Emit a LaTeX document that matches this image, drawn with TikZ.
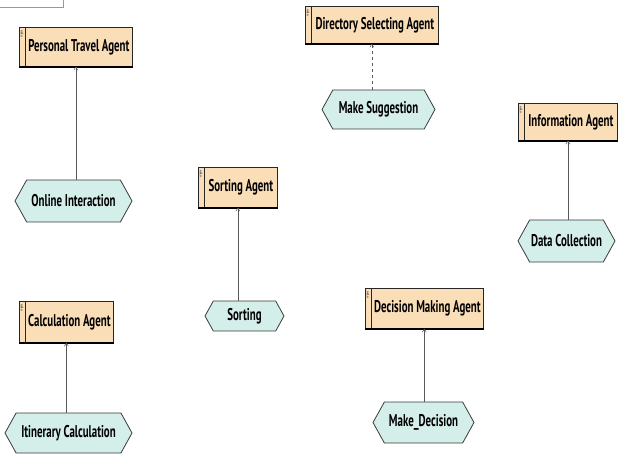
\documentclass[tikz,border=0pt]{standalone}
\usepackage{fontspec}
\setmainfont{PT Sans}
\newfontfamily\lblfont[FakeStretch=0.64]{PT Sans}
\usetikzlibrary{shapes.symbols,arrows.meta,calc}

\definecolor{agentfill}{RGB}{250,222,184}
\definecolor{taskfill}{RGB}{212,238,234}
\definecolor{edgegray}{RGB}{55,60,60}

\tikzset{
  lbl/.style={font=\lblfont\bfseries\fontsize{17}{18}\selectfont},
  agentbox/.style={lbl, draw=black!85, fill=agentfill, line width=0.7pt,
    anchor=north west, inner sep=0pt},
  taskhex/.style={lbl, signal, signal to=west and east, signal pointer angle=122,
    draw=edgegray, fill=taskfill, line width=0.8pt, inner sep=0pt},
  link/.style={draw=black!65, line width=0.5pt,
    -{Straight Barb[length=3pt,width=4pt]}},
  stereo/.style={font=\fontsize{4}{4}\selectfont, inner sep=0pt, rotate=-90},
}

% side strip, stereotype mark and heavy bottom rule of an agent box
\newcommand{\agentdeco}[1]{%
  \draw[black!85, line width=0.7pt] ($(#1.north west)+(6,0)$) -- ($(#1.south west)+(6,0)$);
  \node[stereo] at ($(#1.north west)+(3,7)$) {«A»};
  \draw[black, line width=1.8pt] (#1.south west) -- (#1.south east);
}

\begin{document}
\begin{tikzpicture}[x=1pt,y=-1pt]
  \fill[white] (0,0) rectangle (618,454);
  \useasboundingbox (0,0) rectangle (618,454);

  % clipped tab frame in the corner
  \draw[black!40, line width=0.6pt] (-1,7) -- (63,7) -- (63,-1);

  % agents
  \node[agentbox, minimum width=113, minimum height=39] (pta) at (19,27) {\hspace*{6pt}Personal Travel Agent};
  \node[agentbox, minimum width=133, minimum height=37] (dsa) at (305,6) {\hspace*{6pt}Directory Selecting Agent};
  \node[agentbox, minimum width=79, minimum height=40] (sa) at (198,167) {\hspace*{6pt}Sorting Agent};
  \node[agentbox, minimum width=99, minimum height=37] (ia) at (518,103) {\hspace*{6pt}Information Agent};
  \node[agentbox, minimum width=94, minimum height=41] (ca) at (19,301) {\hspace*{6pt}Calculation Agent};
  \node[agentbox, minimum width=118, minimum height=40] (dma) at (365,288) {\hspace*{6pt}Decision Making Agent};
  \agentdeco{pta}
  \agentdeco{dsa}
  \agentdeco{sa}
  \agentdeco{ia}
  \agentdeco{ca}
  \agentdeco{dma}

  % tasks
  \node[taskhex, minimum width=113, minimum height=39] (ms) at (378.5,109.5) {Make Suggestion};
  \node[taskhex, minimum width=117, minimum height=42] (oi) at (73.5,201) {Online Interaction};
  \node[taskhex, minimum width=79, minimum height=30] (so) at (244.5,316) {Sorting};
  \node[taskhex, minimum width=97, minimum height=42] (dc) at (566.5,241) {Data Collection};
  \node[taskhex, minimum width=127, minimum height=40] (ic) at (68.5,433) {Itinerary Calculation};
  \node[taskhex, minimum width=101, minimum height=41] (md) at (423.5,422.5) {Make\_Decision};

  % links from each task up to its agent
  \draw[link] (oi.north -| pta.south) -- (pta.south);
  \draw[link, dashed] (ms.north -| dsa.south) -- (dsa.south);
  \draw[link] (so.north -| sa.south) -- (sa.south);
  \draw[link] (dc.north -| ia.south) -- (ia.south);
  \draw[link] (ic.north -| ca.south) -- (ca.south);
  \draw[link] (md.north -| dma.south) -- (dma.south);
\end{tikzpicture}
\end{document}
